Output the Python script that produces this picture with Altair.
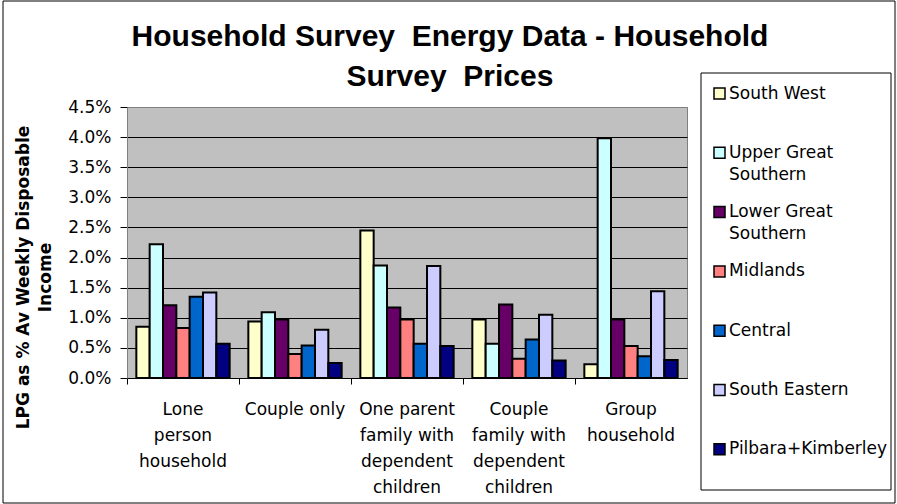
import altair as alt
import pandas as pd

# Household types (the "|" marks where each axis label breaks onto a new line)
households = [
    "Lone|person|household",
    "Couple only",
    "One parent|family with|dependent|children",
    "Couple|family with|dependent|children",
    "Group|household",
]

regions = [
    "South West",
    "Upper Great Southern",
    "Lower Great Southern",
    "Midlands",
    "Central",
    "South Eastern",
    "Pilbara+Kimberley",
]

region_colors = ["#FFFFCC", "#CCFFFF", "#660066", "#FF8080", "#0066CC", "#CCCCFF", "#000080"]

# LPG cost as % of average weekly disposable income, one value per household type
south_west = [0.85, 0.94, 2.45, 0.97, 0.23]
upper_great_southern = [2.22, 1.09, 1.87, 0.57, 3.98]
lower_great_southern = [1.21, 0.97, 1.17, 1.22, 0.97]
midlands = [0.83, 0.40, 0.97, 0.32, 0.53]
central = [1.35, 0.54, 0.57, 0.64, 0.36]
south_eastern = [1.42, 0.80, 1.86, 1.05, 1.44]
pilbara_kimberley = [0.57, 0.25, 0.53, 0.29, 0.30]

y_ticks = [0.0, 0.005, 0.01, 0.015, 0.02, 0.025, 0.03, 0.035, 0.04, 0.045]

series = [
    south_west, upper_great_southern, lower_great_southern, midlands,
    central, south_eastern, pilbara_kimberley,
]

rows = []
for region, values in zip(regions, series):
    for household, v in zip(households, values):
        rows.append({"household": household, "region": region, "share": v / 100})
df = pd.DataFrame(rows)

TITLE_FONT = "Liberation Sans"
FONT = "DejaVu Sans"
FS = 17

# Plot area is 560 x 271 px, placed at (127, 107) inside the 897 x 504 page
W, H = 560, 271
LEFT, TOP = 127, 107

bars = alt.Chart(df).mark_bar(stroke="black", strokeWidth=2).encode(
    x=alt.X(
        "household:N",
        sort=households,
        scale=alt.Scale(paddingInner=0, paddingOuter=0),
        axis=alt.Axis(
            title=None,
            labelAngle=0,
            labelExpr="split(datum.label, '|')",
            labelFont=FONT,
            labelFontSize=FS,
            labelColor="black",
            labelLineHeight=26,
            labelBaseline="top",
            labelPadding=17,
            bandPosition=0,
            tickSize=6,
            tickColor="black",
            domainColor="black",
            labelLimit=200,
        ),
    ),
    xOffset=alt.XOffset(
        "region:N", sort=regions, scale=alt.Scale(paddingInner=0, paddingOuter=0.7)
    ),
    y=alt.Y(
        "share:Q",
        scale=alt.Scale(domain=[0, 0.045], nice=False),
        axis=alt.Axis(
            values=y_ticks,
            format=".1%",
            title=["LPG as % Av Weekly Disposable", "Income"],
            titleFont=FONT,
            titleFontSize=FS,
            titleFontWeight="bold",
            titleColor="black",
            titleAngle=270,
            titleAlign="center",
            titleBaseline="alphabetic",
            titleLineHeight=22,
            titleX=28.5 - LEFT,
            titleY=277 - TOP,
            labelFont=FONT,
            labelFontSize=FS,
            labelColor="black",
            labelPadding=9,
            tickSize=7,
            tickColor="black",
            domainColor="#808080",
            grid=True,
            gridColor={"condition": {"test": "datum.value >= 0.045", "value": "#808080"}, "value": "black"},
            gridWidth=1,
        ),
    ),
    color=alt.Color(
        "region:N",
        sort=regions,
        scale=alt.Scale(domain=regions, range=region_colors),
        legend=alt.Legend(
            title=None,
            orient="none",
            legendX=584,
            legendY=-22,
            direction="vertical",
            symbolType="square",
            symbolSize=121,
            symbolStrokeColor="black",
            symbolStrokeWidth=1.5,
            labelFont=FONT,
            labelFontSize=FS,
            labelColor="black",
            labelBaseline="middle",
            labelOffset=1,
            labelExpr="split(replace(datum.label, ' Great ', ' Great|') + (indexof(datum.label, 'Great') >= 0 ? '' : '| '), '|')",
            rowPadding=19.3,
            padding=0,
            labelLimit=200,
        ),
    ),
)

one_row = pd.DataFrame({"box": [0]})

# Outer chart frame
frame = alt.Chart(one_row).mark_rect(fill=None, stroke="black", strokeWidth=1).encode(
    x=alt.value(3 - LEFT), x2=alt.value(895 - LEFT),
    y=alt.value(1 - TOP), y2=alt.value(503 - TOP),
)

# Legend box
legend_box = alt.Chart(one_row).mark_rect(fill="white", stroke="black", strokeWidth=1).encode(
    x=alt.value(701 - LEFT), x2=alt.value(891 - LEFT),
    y=alt.value(73 - TOP), y2=alt.value(490 - TOP),
)

chart = alt.layer(frame, legend_box, bars).properties(
    width=W,
    height=H,
    autosize=alt.AutoSizeParams(type="none"),
    padding={"left": LEFT, "top": TOP, "right": 897 - LEFT - W, "bottom": 504 - TOP - H},
    background="white",
    title=alt.TitleParams(
        text=["Household Survey\u00a0 Energy Data - Household", "Survey\u00a0 Prices"],
        font=TITLE_FONT,
        fontSize=30,
        fontWeight="bold",
        color="black",
        lineHeight=40,
        anchor="middle",
        frame="group",
        dx=43,
        dy=106,
        offset=15,
    ),
).configure(
    style={"guide-label": {"lineHeight": 22}}
).configure_view(
    fill="#C0C0C0", stroke="#808080", strokeWidth=1
)

chart.save("out.html", embed_options={"renderer": "svg", "actions": False})
